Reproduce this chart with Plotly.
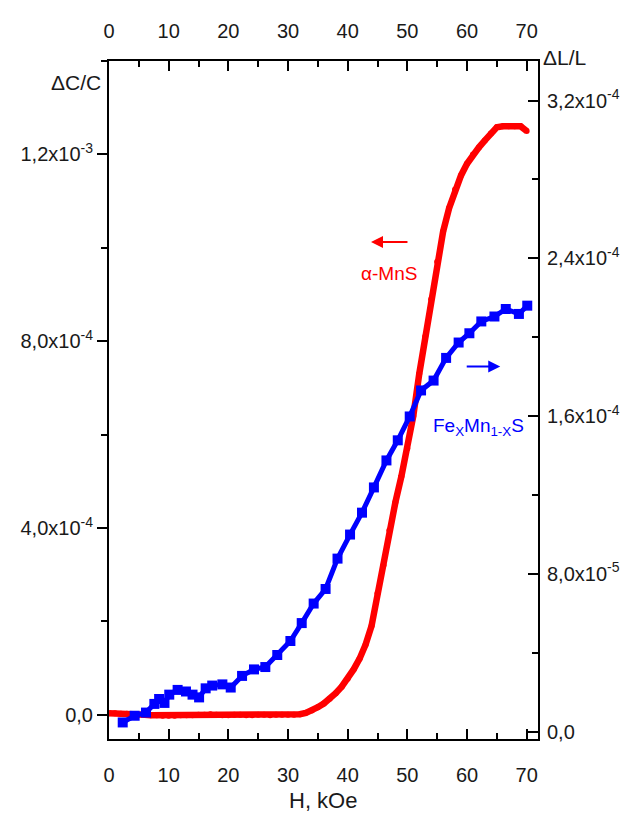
import plotly.graph_objects as go

# α-MnS: field H (kOe) and ΔC/C (left axis)
h_mns = list(range(0, 71))
dcc_mns_e4 = [0.03, 0.03, 0.02, 0.02, 0.01, 0.0, 0.0, -0.01, -0.01, -0.02,
              -0.02, -0.02, -0.01, -0.01, -0.01, 0.0, 0.0, 0.01, 0.0, -0.01,
              -0.01, 0.0, 0.0, -0.01, -0.01, 0.0, 0.0, -0.01, 0.0, 0.0,
              0.0, 0.0, 0.01, 0.04, 0.09, 0.16, 0.24, 0.34, 0.46, 0.6,
              0.77, 0.97, 1.2, 1.5, 1.9, 2.6, 3.2, 3.95, 4.55, 5.1,
              5.7, 6.4, 7.3, 8.1, 8.9, 9.7, 10.35, 10.85, 11.25, 11.55,
              11.8, 12.0, 12.15, 12.3, 12.45, 12.58, 12.6, 12.6, 12.6, 12.6,
              12.5]
dcc_mns = [v * 1e-4 for v in dcc_mns_e4]

# FexMn1-xS: field H (kOe) and ΔL/L (right axis)
h_fe = [2.3, 4.3, 6.2, 7.6, 8.4, 9.3, 10.1, 11.5, 12.9, 14.0, 15.1, 16.2, 17.3,
        19.0, 20.4, 22.3, 24.3, 26.2, 28.2, 30.4, 32.3, 34.3, 36.3, 38.3, 40.4,
        42.4, 44.4, 46.5, 48.4, 50.4, 52.3, 54.4, 56.5, 58.6, 60.4, 62.4, 64.6,
        66.5, 68.7, 70.1]
dll_fe_e6 = [4.6, 8.0, 9.6, 14.0, 16.5, 14.5, 18.7, 21.1, 20.3, 18.7, 17.3, 21.9,
             23.3, 23.9, 22.3, 28.2, 31.5, 32.7, 38.8, 45.9, 55.0, 64.9, 72.3,
             87.7, 99.9, 111.0, 123.8, 137.5, 147.7, 159.8, 173.0, 178.0, 189.5,
             197.3, 202.0, 208.0, 210.5, 214.3, 211.8, 216.0]
dll_fe = [v * 1e-6 for v in dll_fe_e6]

x_ticks = [0, 10, 20, 30, 40, 50, 60, 70]
left_vals = [0, 4e-4, 8e-4, 1.2e-3]
left_text = ["0,0", "4,0x10<sup>-4</sup>", "8,0x10<sup>-4</sup>", "1,2x10<sup>-3</sup>"]
right_vals = [0, 8e-5, 1.6e-4, 2.4e-4, 3.2e-4]
right_text = ["0,0", "8,0x10<sup>-5</sup>", "1,6x10<sup>-4</sup>",
              "2,4x10<sup>-4</sup>", "3,2x10<sup>-4</sup>"]

RED = "#ff0000"
BLUE = "#0000ff"
FONT = "Liberation Sans, Arial, sans-serif"
TXT = "#1a1a1a"

# page offset (body margin) compensation
OFF = 8
L, R, T, B = 106.5, 538.0, 42.0, 739.0   # plot area in page pixels
W, H = 635 - OFF, 813 - OFF
pw, ph = R - L, B - T


def px(x):
    return (x - L) / pw


def py(y):
    return (B - y) / ph


fig = go.Figure()
fig.add_trace(go.Scatter(x=h_mns, y=dcc_mns, mode="lines+markers",
                         line=dict(color=RED, width=6.5),
                         marker=dict(color=RED, size=6, symbol="circle"),
                         xaxis="x", yaxis="y", showlegend=False))
fig.add_trace(go.Scatter(x=h_fe, y=dll_fe, mode="lines+markers",
                         line=dict(color=BLUE, width=5),
                         marker=dict(color=BLUE, size=10, symbol="square"),
                         xaxis="x2", yaxis="y2", showlegend=False))

xr = [0, 71.9]
TF = 20
axis_common = dict(showgrid=False, zeroline=False, showline=True, linewidth=2,
                   linecolor="black", tickcolor="black", tickwidth=2,
                   tickfont=dict(family=FONT, size=TF, color=TXT))

fig.update_layout(
    width=W, height=H,
    margin=dict(l=L - OFF, r=635 - R, t=T - OFF, b=813 - B, pad=0),
    paper_bgcolor="white", plot_bgcolor="white",
    xaxis=dict(range=xr, tickvals=x_ticks, ticks="inside", ticklen=10,
               ticklabelstandoff=17,
               minor=dict(dtick=5, tick0=0, ticks="inside", ticklen=6,
                          tickwidth=2, tickcolor="black"),
               anchor="y", **axis_common),
    xaxis2=dict(range=xr, tickvals=x_ticks, ticks="inside", ticklen=10,
                ticklabelstandoff=13,
                minor=dict(dtick=5, tick0=0, ticks="inside", ticklen=6,
                           tickwidth=2, tickcolor="black"),
                overlaying="x", side="top", anchor="y2", **axis_common),
    yaxis=dict(range=[-5.2e-5, 1.4e-3], tickvals=left_vals, ticktext=left_text,
               ticks="outside", ticklen=10,
               minor=dict(dtick=2e-4, tick0=0, ticks="outside", ticklen=6,
                          tickwidth=2, tickcolor="black"),
               anchor="x", **axis_common),
    yaxis2=dict(range=[-3.8e-6, 3.401e-4], tickvals=right_vals, ticktext=right_text,
                ticks="inside", ticklen=10, ticklabelstandoff=3,
                minor=dict(dtick=4e-5, tick0=0, ticks="inside", ticklen=6,
                           tickwidth=2, tickcolor="black"),
                overlaying="y", side="right", anchor="x2", **axis_common),
)

ann_font = dict(family=FONT, size=21, color=TXT)
fig.add_annotation(text="ΔC/C", xref="paper", yref="paper", x=px(100), y=py(64),
                   xanchor="right", yanchor="middle", showarrow=False, font=ann_font)
fig.add_annotation(text="ΔL/L", xref="paper", yref="paper", x=px(541), y=py(38),
                   xanchor="left", yanchor="middle", showarrow=False, font=ann_font)
fig.add_annotation(text="H, kOe", xref="paper", yref="paper", x=px(322), y=py(802),
                   xanchor="center", yanchor="middle", showarrow=False,
                   font=dict(family=FONT, size=22, color=TXT))
fig.add_annotation(text="α-MnS", xref="paper", yref="paper", x=px(388), y=py(260),
                   xanchor="center", yanchor="middle", showarrow=False,
                   font=dict(family=FONT, size=19, color=RED))
fig.add_annotation(text="Fe<sub>X</sub>Mn<sub>1-X</sub>S", xref="paper", yref="paper",
                   x=px(478), y=py(418), xanchor="center", yanchor="middle",
                   showarrow=False, font=dict(family=FONT, size=19, color=BLUE))
fig.add_annotation(text="", xref="paper", yref="paper", x=px(370), y=py(228),
                   ax=38, ay=0, showarrow=True, arrowhead=2, arrowsize=1.2,
                   arrowwidth=2, arrowcolor=RED)
fig.add_annotation(text="", xref="paper", yref="paper", x=px(500), y=py(356),
                   ax=-35, ay=0, showarrow=True, arrowhead=2, arrowsize=1.2,
                   arrowwidth=2, arrowcolor=BLUE)

fig.write_html("out.html")
